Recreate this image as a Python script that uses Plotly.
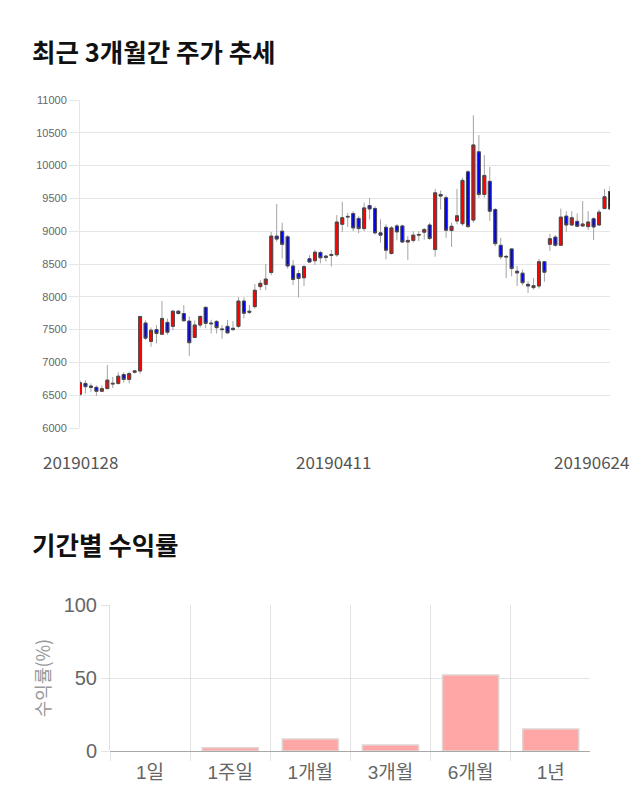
import plotly.graph_objects as go

# ---------------- data ----------------
dates = [
    "20190128", "20190129", "20190130", "20190131",
    "20190207", "20190208", "20190211", "20190212", "20190213", "20190214", "20190215",
    "20190218", "20190219", "20190220", "20190221", "20190222",
    "20190225", "20190226", "20190227", "20190228",
    "20190304", "20190305", "20190306", "20190307", "20190308",
    "20190311", "20190312", "20190313", "20190314", "20190315",
    "20190318", "20190319", "20190320", "20190321", "20190322",
    "20190325", "20190326", "20190327", "20190328", "20190329",
    "20190401", "20190402", "20190403", "20190404", "20190405",
    "20190408", "20190409", "20190410", "20190411", "20190412",
    "20190415", "20190416", "20190417", "20190418", "20190419",
    "20190422", "20190423", "20190424", "20190425", "20190426",
    "20190429", "20190430",
    "20190502", "20190503", "20190507", "20190508", "20190509", "20190510",
    "20190513", "20190514", "20190515", "20190516", "20190517",
    "20190520", "20190521", "20190522", "20190523", "20190524",
    "20190527", "20190528", "20190529", "20190530", "20190531",
    "20190603", "20190604", "20190605", "20190607",
    "20190610", "20190611", "20190612", "20190613", "20190614",
    "20190617", "20190618", "20190619", "20190620", "20190621",
    "20190624",
]

open_ = [6515, 6680, 6640, 6620, 6560, 6600, 6670, 6680, 6815, 6740,
         6850, 6870, 7600, 7320, 7500, 7430, 7610, 7550, 7780, 7745,
         7630, 7380, 7570, 7840, 7600, 7625, 7510, 7550, 7500, 7550,
         7935, 7780, 7850, 8155, 8190, 8370, 8925, 9000, 8915, 8470,
         8355, 8290, 8580, 8550, 8675, 8600, 8630, 8640, 9105, 9215,
         9270, 9195, 9040, 9390, 9345, 8975, 9060, 8660, 9080, 9080,
         8835, 8860, 8940, 8985, 9095, 8720, 9560, 9510, 9010, 9155,
         9115, 9905, 9170, 10210, 9560, 9760, 9330, 8785, 8605, 8730,
         8390, 8360, 8190, 8140, 8165, 8535, 8800, 8910, 8785, 9230,
         9095, 9150, 9080, 9070, 9190, 9095, 9345, 9605]
high = [6730, 6730, 6680, 6650, 6650, 6960, 6780, 6850, 6850, 6860,
        6880, 7705, 7640, 7530, 7570, 7935, 7670, 7800, 7800, 7875,
        7700, 7640, 7720, 7850, 7650, 7645, 7570, 7645, 7630, 7995,
        7990, 7875, 8195, 8255, 8500, 8990, 9415, 9130, 8940, 8560,
        8410, 8485, 8635, 8715, 8700, 8635, 8715, 9245, 9450, 9280,
        9305, 9230, 9435, 9510, 9380, 9180, 9105, 9080, 9110, 9100,
        8925, 9000, 9000, 9050, 9130, 9645, 9620, 9545, 9130, 9645,
        9815, 9930, 10765, 10465, 10160, 9980, 9355, 8900, 8640, 8730,
        8470, 8415, 8240, 8290, 8580, 8545, 8960, 8940, 9345, 9305,
        9305, 9270, 9460, 9305, 9215, 9330, 9645, 9685]
low = [6480, 6525, 6550, 6490, 6550, 6600, 6610, 6660, 6690, 6680,
       6830, 6830, 7340, 7240, 7290, 7420, 7420, 7490, 7730, 7620,
       7100, 7370, 7530, 7520, 7440, 7440, 7360, 7440, 7480, 7520,
       7670, 7735, 7820, 8100, 8100, 8330, 8840, 8585, 8430, 8180,
       7990, 8165, 8520, 8485, 8510, 8540, 8460, 8610, 8990, 9065,
       9000, 8970, 9000, 9180, 8950, 8825, 8570, 8645, 8860, 8825,
       8560, 8825, 8850, 8870, 8865, 8610, 9330, 8900, 8760, 9105,
       9080, 9050, 9130, 9510, 9510, 9155, 8770, 8570, 8285, 8310,
       8165, 8175, 8060, 8110, 8125, 8230, 8700, 8765, 8775, 8990,
       9080, 9065, 9065, 9020, 8865, 9080, 9335, 9320]
close = [6690, 6630, 6620, 6560, 6600, 6730, 6680, 6790, 6740, 6830,
         6870, 7700, 7370, 7490, 7440, 7670, 7460, 7780, 7745, 7635,
         7300, 7570, 7700, 7595, 7590, 7530, 7500, 7450, 7520, 7935,
         7750, 7765, 8100, 8205, 8270, 8925, 8880, 8800, 8470, 8265,
         8280, 8460, 8530, 8680, 8595, 8620, 8645, 9140, 9205, 9225,
         9050, 9040, 9355, 9340, 8975, 8940, 8710, 9050, 8990, 8835,
         8860, 8940, 8950, 9025, 8890, 9585, 9535, 9015, 9075, 9235,
         9775, 9070, 10315, 9560, 9850, 9305, 8810, 8610, 8615, 8430,
         8365, 8215, 8165, 8170, 8535, 8375, 8885, 8785, 9215, 9095,
         9205, 9075, 9110, 9140, 9065, 9290, 9525, 9340]

x_labels = ["20190128", "20190411", "20190624"]

periods = ["1일", "1주일", "1개월", "3개월", "6개월", "1년"]
returns = [0.0, 2.3, 8.2, 4.1, 52.0, 15.1]

# ---------------- figure ----------------
W, H = 640, 810


def px_x(p):
    return p / W


def px_y(p):
    return 1 - p / H


body_top = [max(o, c) for o, c in zip(open_, close)]
body_bot = [min(o, c) for o, c in zip(open_, close)]
bar_line_w = [1.5 if v != 0 else 0 for v in returns]

fig = go.Figure()

# wicks: full-range candlestick in light gray
fig.add_trace(go.Candlestick(
    x=dates, open=open_, high=high, low=low, close=close,
    increasing=dict(line=dict(color="#a3a3a3", width=1), fillcolor="rgba(0,0,0,0)"),
    decreasing=dict(line=dict(color="#a3a3a3", width=1), fillcolor="rgba(0,0,0,0)"),
    whiskerwidth=0, showlegend=False, hoverinfo="skip",
    xaxis="x", yaxis="y",
))
# bodies: candlestick without shadows, dark outline, red/blue fill
fig.add_trace(go.Candlestick(
    x=dates, open=open_, high=body_top, low=body_bot, close=close,
    increasing=dict(line=dict(color="#4a4a4a", width=1), fillcolor="#ff0000"),
    decreasing=dict(line=dict(color="#4a4a4a", width=1), fillcolor="#0000ff"),
    whiskerwidth=0, showlegend=False, hoverinfo="skip",
    xaxis="x", yaxis="y",
))

# returns bar chart
fig.add_trace(go.Bar(
    x=periods, y=returns, width=0.7,
    marker=dict(color="#ffa6a6", line=dict(color="#e2d4d4", width=bar_line_w)),
    showlegend=False, hoverinfo="skip", xaxis="x2", yaxis="y2",
))

fig.update_layout(
    width=W, height=H,
    margin=dict(l=0, r=0, t=0, b=0),
    paper_bgcolor="white", plot_bgcolor="white",
    boxmode="overlay", boxgap=0.22,
    font=dict(family="Liberation Sans, Noto Sans CJK KR, sans-serif", color="#666"),
    xaxis=dict(
        type="category", domain=[px_x(80), px_x(610)], anchor="y",
        range=[0, len(dates) - 1], showgrid=False, showticklabels=False,
        ticks="", showline=False, zeroline=False,
        rangeslider=dict(visible=False), fixedrange=True,
    ),
    yaxis=dict(
        domain=[px_y(428), px_y(100)], anchor="x",
        range=[6000, 11000], dtick=500, tick0=6000, tickformat="d",
        showgrid=True, gridcolor="#e6e6e6", gridwidth=1,
        ticks="outside", ticklen=10, tickcolor="#e6e6e6",
        showline=True, linecolor="#e6e6e6", linewidth=1,
        zeroline=False, automargin=False,
        tickfont=dict(family="Liberation Sans, Arial, sans-serif", size=11, color="#666"),
    ),
    xaxis2=dict(
        type="category", domain=[px_x(110), px_x(590)], anchor="y2",
        range=[-0.5, len(periods) - 0.51],
        tickson="boundaries", showgrid=True, gridcolor="#e3e3e3",
        ticks="outside", ticklen=9, tickcolor="#e3e3e3",
        ticklabelstandoff=8,
        showline=False, zeroline=False, automargin=False,
        tickfont=dict(family="Liberation Sans, Noto Sans CJK KR, sans-serif", size=19, color="#666"),
    ),
    yaxis2=dict(
        domain=[px_y(751), px_y(605)], anchor="x2",
        range=[0, 100], dtick=50,
        showgrid=True, gridcolor="#e3e3e3",
        ticks="outside", ticklen=8, tickcolor="#e3e3e3",
        showline=True, linecolor="#e0e0e0",
        zeroline=True, zerolinecolor="#a8a8a8", zerolinewidth=1,
        automargin=False,
        tickfont=dict(family="Liberation Sans, Arial, sans-serif", size=20, color="#666"),
        title=dict(text="수익률(%)", standoff=8,
                   font=dict(family="Noto Sans CJK KR, sans-serif", size=18, color="#999")),
    ),
)

annotations = [
    dict(text="<b>최근 3개월간 주가 추세</b>", xref="paper", yref="paper",
         x=px_x(30), y=px_y(50), xanchor="left", yanchor="middle", showarrow=False,
         font=dict(family="Noto Sans CJK KR, sans-serif", size=25.5, color="#111")),
    dict(text="<b>기간별 수익률</b>", xref="paper", yref="paper",
         x=px_x(30), y=px_y(543), xanchor="left", yanchor="middle", showarrow=False,
         font=dict(family="Noto Sans CJK KR, sans-serif", size=25.5, color="#111")),
]
# x tick labels of the price chart (placed at their date's category index)
label_specs = [(x_labels[0], "center", 0), (x_labels[1], "center", -9), (x_labels[2], "right", 21)]
for lab, anc, shift in label_specs:
    annotations.append(dict(
        text=lab, x=dates.index(lab), y=px_y(428), xref="x", yref="paper",
        xanchor=anc, yanchor="top", yshift=-19, xshift=shift, showarrow=False,
        font=dict(family="Noto Sans CJK KR, sans-serif", size=17, color="#555"),
    ))
fig.update_layout(annotations=annotations)

fig.write_html("out.html")
